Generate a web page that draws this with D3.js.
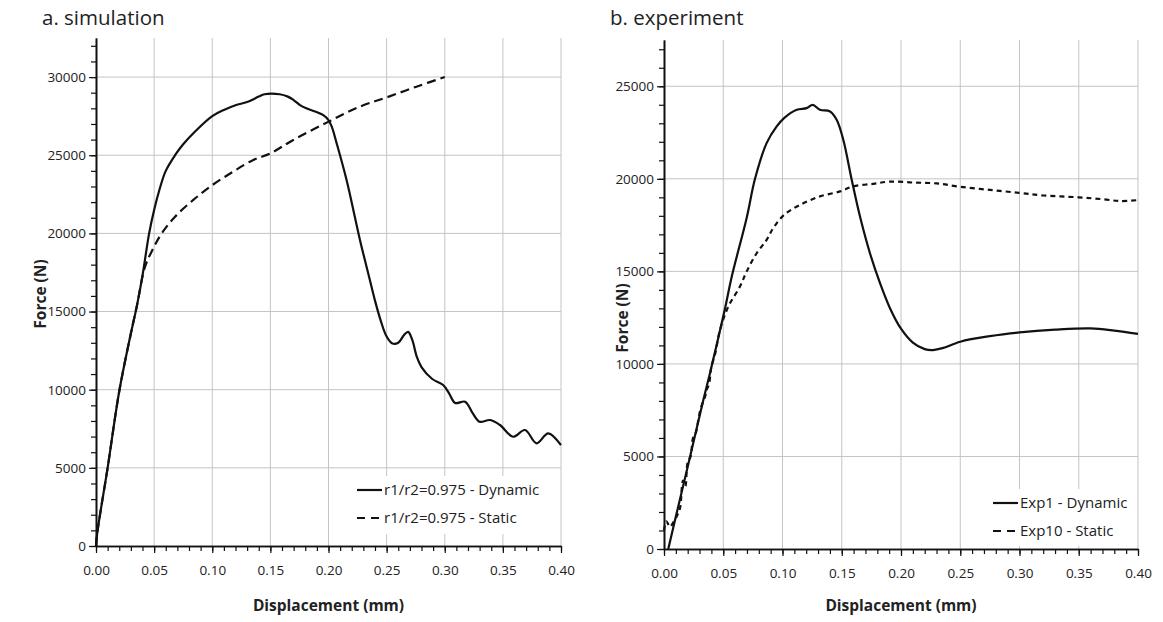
<!DOCTYPE html>
<html>
<head>
<meta charset="utf-8">
<script src="https://cdn.jsdelivr.net/npm/d3@7"></script>
<style>
body { margin: 0; background: #fff; }
text { font-family: "Open Sans", sans-serif; fill: #222; }
</style>
</head>
<body>
<svg id="chart" width="1163" height="622"></svg>
<script>
// displacement ticks shared by both panels
const xTicks = [0, 0.05, 0.10, 0.15, 0.20, 0.25, 0.30, 0.35, 0.40];
const simForceTicks = [0, 5000, 10000, 15000, 20000, 25000, 30000];
const expForceTicks = [0, 5000, 10000, 15000, 20000, 25000];

// a. simulation, r1/r2=0.975 dynamic
const simDynDisp = [0, 0.001, 0.01, 0.02, 0.03, 0.035, 0.04, 0.0457, 0.05, 0.055, 0.06, 0.068, 0.075, 0.085, 0.10,
    0.11, 0.12, 0.13, 0.14, 0.145, 0.158, 0.165, 0.17, 0.1755, 0.181, 0.1955, 0.20, 0.2028, 0.207, 0.2156, 0.227,
    0.235, 0.24, 0.245, 0.25, 0.255, 0.26, 0.265, 0.2685, 0.272, 0.276, 0.28, 0.289, 0.2986, 0.3035, 0.3089, 0.3175,
    0.324, 0.330, 0.339, 0.3475, 0.3587, 0.369, 0.379, 0.389, 0.40];
const simDynForce = [0, 800, 5000, 9900, 13600, 15300, 17300, 20000, 21500, 22900, 24000, 25000, 25700, 26500, 27500,
    27900, 28200, 28400, 28750, 28900, 28900, 28750, 28530, 28210, 28000, 27570, 27250, 26830, 25770, 23400, 19600,
    17200, 15700, 14400, 13400, 12950, 13000, 13500, 13700, 13200, 12100, 11450, 10700, 10300, 9800, 9150, 9230,
    8500, 7950, 8060, 7740, 6990, 7420, 6570, 7210, 6450];

// a. simulation, r1/r2=0.975 static
const simStaDisp = [0, 0.001, 0.01, 0.02, 0.03, 0.035, 0.0422, 0.0493, 0.0565, 0.068, 0.0837, 0.1003, 0.118, 0.1353,
    0.150, 0.1697, 0.2002, 0.227, 0.25, 0.275, 0.30];
const simStaForce = [0, 800, 5000, 9900, 13600, 15300, 17870, 19050, 20000, 21070, 22140, 23100, 23950, 24700,
    25120, 25980, 27150, 28110, 28700, 29370, 30000];

// b. experiment, Exp1 dynamic
const expDynDisp = [0.0036, 0.01, 0.02, 0.0332, 0.0388, 0.0515, 0.0571, 0.0698, 0.0768, 0.0866, 0.0951, 0.1013, 0.112,
    0.1204, 0.1255, 0.1316, 0.1401, 0.1457, 0.1513, 0.1584, 0.1654, 0.1738, 0.1823, 0.1907, 0.20, 0.21, 0.22, 0.227,
    0.235, 0.25, 0.275, 0.30, 0.33, 0.36, 0.38, 0.40];
const expDynForce = [0, 1750, 4450, 8050, 9500, 13000, 14700, 17900, 20000, 21930, 22830, 23280, 23730,
    23820, 24000, 23730, 23640, 23190, 22110, 19950, 17960, 15980, 14360, 13010, 11900, 11150, 10800, 10750,
    10850, 11200, 11500, 11700, 11850, 11920, 11800, 11620];

// b. experiment, Exp10 static (noisy at the start)
const expStaDisp = [0, 0.002, 0.005, 0.008, 0.011, 0.0135, 0.016, 0.018, 0.020, 0.0225, 0.0245, 0.027, 0.0287, 0.031,
    0.0346, 0.036, 0.038, 0.040, 0.043, 0.0473, 0.0543, 0.0641, 0.0698, 0.0782, 0.0866, 0.0922, 0.1013, 0.1148,
    0.1316, 0.1485, 0.1597, 0.1766, 0.1907, 0.21, 0.23, 0.25, 0.275, 0.30, 0.32, 0.35, 0.37, 0.385, 0.40];
const expStaForce = [1000, 1500, 1200, 1450, 1800, 2200, 3700, 3400, 4700, 5000, 6000, 6300, 6880, 7600,
    8220, 8600, 8900, 9860, 10500, 11840, 13100, 14180, 15000, 15980, 16700, 17340, 18050, 18590,
    19050, 19320, 19590, 19730, 19850, 19800, 19750, 19570, 19400, 19240, 19100, 19000, 18900, 18800, 18850];

const svg = d3.select("#chart");

function drawPanel(p) {
    const x = d3.scaleLinear().domain([0, 0.4]).range([p.left, p.right]);
    const y = d3.scaleLinear().domain([0, p.yMax]).range([p.bottom, p.top]);
    const g = svg.append("g");

    // grid
    g.append("g").selectAll("line")
        .data(xTicks.slice(1))
        .enter().append("line")
        .attr("x1", d => x(d)).attr("x2", d => x(d))
        .attr("y1", y(p.yMax)).attr("y2", y(0))
        .attr("stroke", "#c4c4c4").attr("stroke-width", 1);
    g.append("g").selectAll("line")
        .data(p.yTicks.slice(1))
        .enter().append("line")
        .attr("x1", x(0)).attr("x2", x(0.4))
        .attr("y1", d => y(d)).attr("y2", d => y(d))
        .attr("stroke", "#c4c4c4").attr("stroke-width", 1);

    // legend box hides the grid behind it
    g.append("rect")
        .attr("x", p.legend.x - 6).attr("y", p.legend.y - 14)
        .attr("width", p.legend.w).attr("height", p.legend.h)
        .attr("fill", "#fff");

    // curves
    p.series.forEach(s => {
        const pts = s.disp.map((d, i) => [d, s.force[i]]);
        g.append("path")
            .datum(pts)
            .attr("fill", "none")
            .attr("stroke", "#111")
            .attr("stroke-width", 2.2)
            .attr("stroke-dasharray", s.dash)
            .attr("d", d3.line().x(d => x(d[0])).y(d => y(d[1])).curve(d3.curveCatmullRom.alpha(0.5)));
    });

    // axes: minor ticks then major ticks
    const minorX = d3.range(0, 0.4001, 0.01);
    const minorY = d3.range(0, p.yMax + 1, 1000);
    g.append("g").attr("transform", `translate(0,${y(0)})`)
        .call(d3.axisBottom(x).tickValues(minorX).tickSize(5).tickSizeOuter(0).tickFormat(""));
    g.append("g").attr("transform", `translate(${x(0)},0)`)
        .call(d3.axisLeft(y).tickValues(minorY).tickSize(5).tickSizeOuter(0).tickFormat(""));
    const ax = g.append("g").attr("transform", `translate(0,${y(0)})`)
        .call(d3.axisBottom(x).tickValues(xTicks).tickSize(7).tickSizeOuter(0).tickFormat(d3.format(".2f")).tickPadding(12));
    const ay = g.append("g").attr("transform", `translate(${x(0)},0)`)
        .call(d3.axisLeft(y).tickValues(p.yTicks).tickSize(7).tickSizeOuter(0).tickFormat(d3.format("d")).tickPadding(3));
    g.selectAll(".domain").attr("stroke", "#111").attr("stroke-width", 1.6);
    g.selectAll(".tick line").attr("stroke", "#111").attr("stroke-width", 1.2);
    ax.selectAll("text").attr("font-size", 13.5).attr("font-family", "Open Sans").attr("fill", "#222");
    ay.selectAll("text").attr("font-size", 13.5).attr("font-family", "Open Sans").attr("fill", "#222");

    // titles
    g.append("text")
        .attr("x", p.title.x).attr("y", p.title.y)
        .attr("font-size", 20.5)
        .text(p.title.text);
    g.append("text")
        .attr("x", (p.left + p.right) / 2).attr("y", 611)
        .attr("text-anchor", "middle")
        .attr("font-size", 15.5).attr("font-weight", "bold")
        .text("Displacement (mm)");
    g.append("text")
        .attr("transform", `translate(${p.yTitleX},${p.yTitleY}) rotate(-90)`)
        .attr("text-anchor", "middle")
        .attr("font-size", 15.5).attr("font-weight", "bold")
        .text("Force (N)");

    // legend
    p.series.forEach((s, i) => {
        const ly = p.legend.y + i * p.legend.gap;
        g.append("line")
            .attr("x1", p.legend.x).attr("x2", p.legend.x + 25)
            .attr("y1", ly).attr("y2", ly)
            .attr("stroke", "#111").attr("stroke-width", 2.2)
            .attr("stroke-dasharray", s.dash ? "8,6" : null);
        g.append("text")
            .attr("x", p.legend.x + 27).attr("y", ly + 5)
            .attr("font-size", 15)
            .text(s.name);
    });
}

drawPanel({
    left: 96, right: 561, bottom: 546, top: 38, yMax: 32500,
    yTicks: simForceTicks,
    title: { x: 42, y: 25, text: "a. simulation" },
    yTitleX: 46, yTitleY: 294,
    legend: { x: 357, y: 490, gap: 28, w: 203, h: 58 },
    series: [
        { name: "r1/r2=0.975 - Dynamic", disp: simDynDisp, force: simDynForce, dash: null },
        { name: "r1/r2=0.975 - Static", disp: simStaDisp, force: simStaForce, dash: "9,5" }
    ]
});

drawPanel({
    left: 664, right: 1138, bottom: 549, top: 40, yMax: 27500,
    yTicks: expForceTicks,
    title: { x: 610, y: 25, text: "b. experiment" },
    yTitleX: 628, yTitleY: 318,
    legend: { x: 993, y: 503, gap: 28, w: 144, h: 57 },
    series: [
        { name: "Exp1 - Dynamic", disp: expDynDisp, force: expDynForce, dash: null },
        { name: "Exp10 - Static", disp: expStaDisp, force: expStaForce, dash: "5,4" }
    ]
});
</script>
</body>
</html>
